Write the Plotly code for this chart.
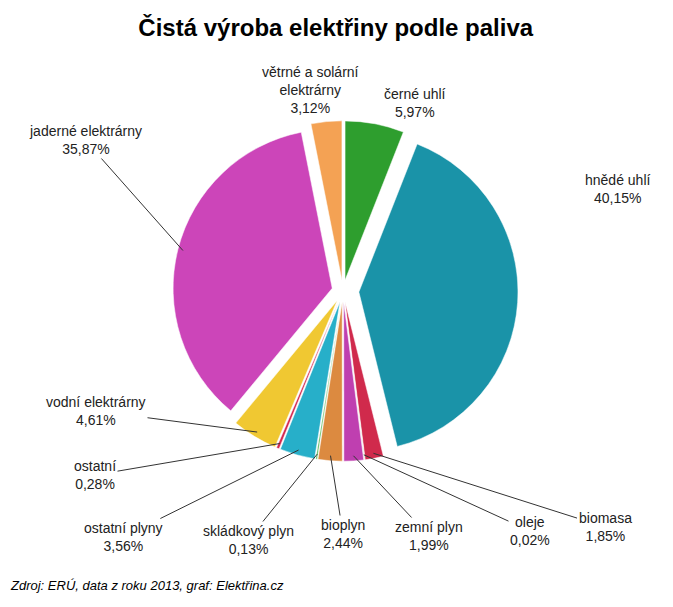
import math

import plotly.graph_objects as go

# Čistá výroba elektřiny podle paliva (2013), shares in %
fuels = [
    "černé uhlí",
    "hnědé uhlí",
    "biomasa",
    "oleje",
    "zemní plyn",
    "bioplyn",
    "skládkový plyn",
    "ostatní plyny",
    "ostatní",
    "vodní elektrárny",
    "jaderné elektrárny",
    "větrné a solární<br>elektrárny",
]
shares = [5.97, 40.15, 1.85, 0.02, 1.99, 2.44, 0.13, 3.56, 0.28, 4.61, 35.87, 3.12]
colors = [
    "#2e9e2e", "#1a93a8", "#d02a4c", "#8c7a2a", "#bf3fb0", "#dc8a40",
    "#2ea82e", "#27afc9", "#d4284e", "#f0c832", "#cc45b9", "#f4a254",
]
pulls = [0.07, 0.10, 0.07, 0.07, 0.07, 0.07, 0.07, 0.07, 0.07, 0.07, 0.07, 0.07]

# label centres in pixels (from top-left) and whether a leader line is drawn
label_pos = [
    (407, 95), (610, 181), (597, 519), (522, 523), (421, 528), (335, 526),
    (240, 532), (115, 529), (87, 467), (88, 403), (77, 132), (302, 82),
]
leader = [False, False, True, True, True, True, True, True, True, True, True, False]

W, H = 673, 607
box = 350                      # square pie box, px
cx, cy = 335, 283              # pie centre, px
label_font = "Liberation Sans, Arial"

fig = go.Figure(
    go.Pie(
        labels=fuels,
        values=shares,
        sort=False,
        direction="clockwise",
        rotation=0,
        marker=dict(colors=colors, line=dict(color="white", width=0.5)),
        pull=pulls,
        textinfo="none",
        hoverinfo="label+value",
        showlegend=False,
        domain=dict(
            x=[(cx - box / 2) / W, (cx + box / 2) / W],
            y=[(H - cy - box / 2) / H, (H - cy + box / 2) / H],
        ),
    )
)

# labels: leader lines end at the middle of each slice's outer edge
r = box / (2 + 2 * max(pulls))
total = sum(shares)
annotations = []
cum = 0.0
for name, val, pull, (lx, ly), line in zip(fuels, shares, pulls, label_pos, leader):
    theta = 2 * math.pi * (cum + val / 2) / total
    cum += val
    text = f"{name}<br>{val:.2f}%".replace(".", ",")
    font = dict(family=label_font, size=14, color="#222222")
    if line:
        rr = r * (1 + pull) * 0.97
        px = cx + rr * math.sin(theta)
        py = cy - rr * math.cos(theta)
        annotations.append(dict(
            x=px / W, y=1 - py / H, xref="paper", yref="paper",
            ax=lx - px, ay=ly - py, text=text, showarrow=True,
            arrowhead=0, arrowwidth=1, arrowcolor="#333333", font=font,
        ))
    else:
        annotations.append(dict(
            x=lx / W, y=1 - ly / H, xref="paper", yref="paper",
            xanchor="center", yanchor="middle",
            text=text, showarrow=False, font=font,
        ))

annotations.append(dict(
    text="<i>Zdroj: ERÚ, data z roku 2013, graf: Elektřina.cz</i>",
    xref="paper", yref="paper", x=0.0, y=1 - 577 / H,
    xanchor="left", yanchor="middle", showarrow=False,
    font=dict(family=label_font, size=13, color="black"),
))

fig.update_layout(
    width=W,
    height=H,
    paper_bgcolor="white",
    margin=dict(l=0, r=0, t=0, b=0),
    title=dict(
        text="<b>Čistá výroba elektřiny podle paliva</b>",
        x=0.487,
        y=1 - 20 / H,
        xanchor="center",
        yanchor="middle",
        font=dict(family="Liberation Sans, Arial", size=24, color="black"),
    ),
    annotations=annotations,
)

fig.write_html("out.html")
